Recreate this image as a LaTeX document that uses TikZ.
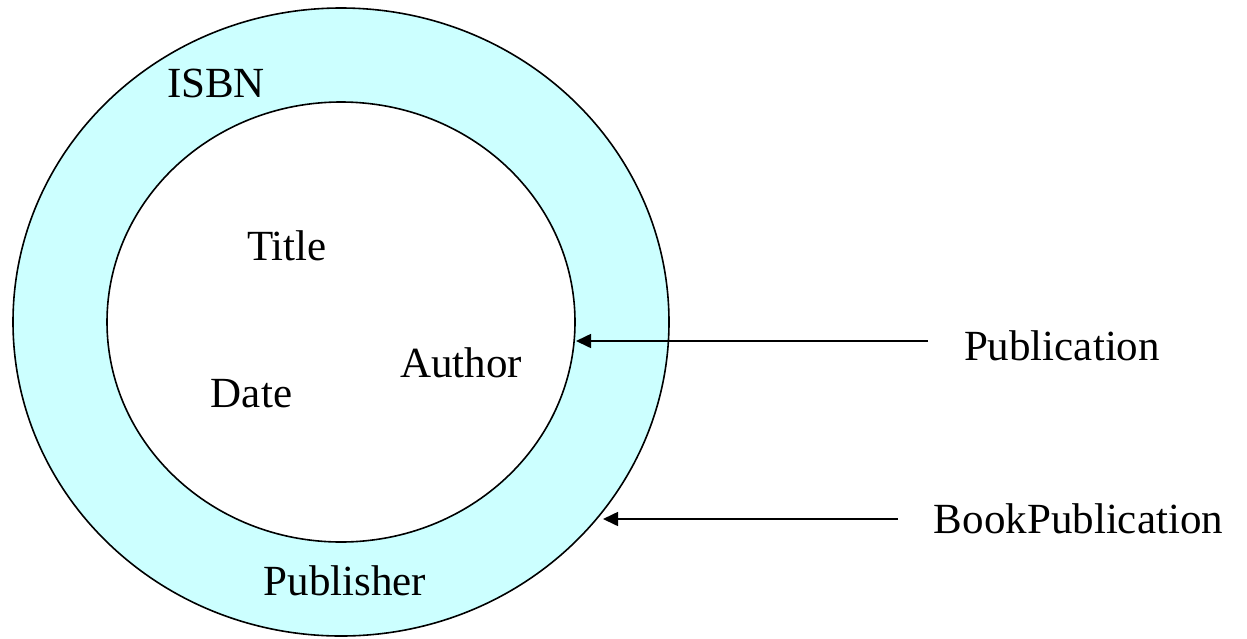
\documentclass[tikz,border=0pt]{standalone}
\usepackage{fontspec}
\setmainfont{Liberation Serif}
\usetikzlibrary{arrows.meta}
\definecolor{ringfill}{RGB}{204,255,255}
\tikzset{
  ring/.style={draw=black, line width=1.6pt},
  lbl/.style={inner sep=0pt, anchor=base, font=\fontsize{43}{50}\selectfont},
  arr/.style={draw=black, line width=1.6pt, -{Triangle[length=15pt,width=14pt]}}
}
\begin{document}
\begin{tikzpicture}[x=1pt,y=-1pt]
\useasboundingbox (0,0) rectangle (1247,638);
% rings
\path[ring, fill=ringfill] (341,322) ellipse [x radius=328, y radius=314];
\path[ring, fill=white] (341,322) ellipse [x radius=234, y radius=220];
% labels
\node[lbl] (isbn) at (216,97) {ISBN};
\node[lbl] (title) at (287,260) {Title};
\node[lbl] (author) at (461,377) {Author};
\node[lbl] (date) at (251.5,407) {Date};
\node[lbl] (publisher) at (345,595) {Publisher};
\node[lbl] (publication) at (1062,360) {Publication};
\node[lbl] (bookpub) at (1078.5,533) {BookPublication};
% connectors
\coordinate (t1) at (928,341);
\coordinate (h1) at (576,341);
\coordinate (t2) at (898,519);
\coordinate (h2) at (603,519);
\draw[arr] (t1) -- (h1);
\draw[arr] (t2) -- (h2);
\end{tikzpicture}
\end{document}
